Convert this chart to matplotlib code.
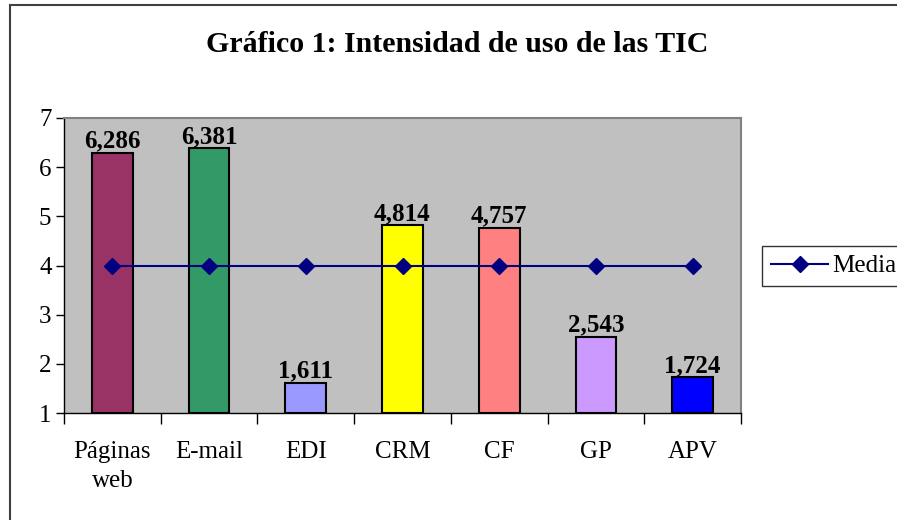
import matplotlib.pyplot as plt
from matplotlib.patches import Rectangle
import numpy as np

# datos del grafico
categorias = ['Páginas\nweb', 'E-mail', 'EDI', 'CRM', 'CF', 'GP', 'APV']
valores = [6.286, 6.381, 1.611, 4.814, 4.757, 2.543, 1.724]
etiquetas = ['6,286', '6,381', '1,611', '4,814', '4,757', '2,543', '1,724']
media = [4, 4, 4, 4, 4, 4, 4]
colores = ['#993366', '#339966', '#9999FF', '#FFFF00', '#FF8080', '#CC99FF', '#0000FF']

plt.rcParams['font.family'] = ['Liberation Serif', 'DejaVu Serif']

fig = plt.figure(figsize=(8.97, 5.2), dpi=100)
W, H = 897, 520

# marco exterior del grafico
fig.patches.append(Rectangle((10 / W, -0.05), 1.2, 1 - 5 / H + 0.05,
                             transform=fig.transFigure, fill=False,
                             edgecolor='#404040', linewidth=1.5))

ax = fig.add_axes([64 / W, 1 - 413 / H, (741 - 64) / W, (413 - 118) / H])
ax.set_facecolor('#C0C0C0')

x = np.arange(len(categorias))
ax.bar(x, np.array(valores) - 1, bottom=1, width=0.42, color=colores,
       edgecolor='black', linewidth=1.5, zorder=2)
ax.plot(x, media, color='#000080', linewidth=1.5, marker='D', markersize=8,
        label='Media', zorder=3)

for xi, v, t in zip(x, valores, etiquetas):
    ax.text(xi, v + 0.01, t, ha='center', va='bottom', fontsize=18,
            fontweight='bold', zorder=4)

ax.set_xlim(-0.5, len(categorias) - 0.5)
ax.set_ylim(1, 7)
ax.set_yticks(range(1, 8))
ax.tick_params(axis='y', labelsize=18, direction='out', length=6, width=1, pad=3)

# marcas del eje x entre categorias
ax.set_xticks(np.arange(-0.5, len(categorias), 1.0))
ax.set_xticklabels([])
ax.set_xticks(x, minor=True)
ax.set_xticklabels(categorias, minor=True, fontsize=18, linespacing=1.45)
ax.tick_params(axis='x', which='major', direction='out', length=8, width=1)
ax.tick_params(axis='x', which='minor', length=0, pad=20)

for s in ['top', 'right']:
    ax.spines[s].set_color('#808080')
    ax.spines[s].set_linewidth(1.5)
for s in ['left', 'bottom']:
    ax.spines[s].set_color('black')
    ax.spines[s].set_linewidth(1)

fig.text(457 / W, 1 - 45 / H, 'Gráfico 1: Intensidad de uso de las TIC',
         ha='center', va='center', fontsize=21.5, fontweight='bold')

leg = fig.legend(loc='center left', bbox_to_anchor=(762 / W, 1 - 266 / H),
                 fontsize=18, frameon=True, fancybox=False, handlelength=2.3,
                 borderpad=0.35, handletextpad=0.15, borderaxespad=0)
leg.get_frame().set_edgecolor('black')
leg.get_frame().set_linewidth(1)

fig.savefig('out.png', dpi=100)
